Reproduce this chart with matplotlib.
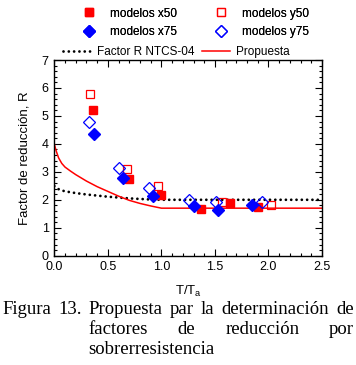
import matplotlib
matplotlib.use("Agg")
import matplotlib.pyplot as plt
from matplotlib.lines import Line2D
from matplotlib.ticker import MultipleLocator

# ---- data ----
x50_T = [0.36, 0.70, 1.00, 1.37, 1.64, 1.90]
x50_R = [5.22, 2.74, 2.16, 1.68, 1.87, 1.74]
y50_T = [0.33, 0.68, 0.97, 1.57, 2.02]
y50_R = [5.80, 3.11, 2.50, 1.92, 1.83]
x75_T = [0.37, 0.64, 0.92, 1.30, 1.53, 1.85]
x75_R = [4.37, 2.79, 2.15, 1.79, 1.65, 1.83]
y75_T = [0.32, 0.60, 0.88, 1.26, 1.51, 1.94]
y75_R = [4.79, 3.14, 2.42, 1.98, 1.91, 1.91]

ntcs_T = [0.0, 0.03, 0.06, 0.12, 0.2, 0.3, 0.4, 0.5, 0.6, 0.7, 0.8, 0.9, 1.0, 2.5]
ntcs_R = [2.49, 2.40, 2.34, 2.29, 2.24, 2.19, 2.15, 2.11, 2.08, 2.05, 2.03, 2.01, 2.0, 2.0]

prop_T = [0.0, 0.01, 0.02, 0.04, 0.07, 0.1, 0.15, 0.2, 0.3, 0.4, 0.5, 0.6, 0.7, 0.8, 0.9, 1.0, 2.5]
prop_R = [4.0, 3.85, 3.72, 3.50, 3.30, 3.17, 3.03, 2.90, 2.67, 2.47, 2.30, 2.13, 1.98, 1.87, 1.78, 1.70, 1.70]

labels = ["modelos x50", "modelos y50", "modelos x75", "modelos y75",
          "Factor R NTCS-04", "Propuesta"]
xlabel = "T/T$_\\mathregular{a}$"
ylabel = "Factor de reducción, R"
caption1 = ["Figura", "13.", "Propuesta", "par", "la", "determinación", "de"]
caption2 = ["factores", "de", "reducción", "por"]
caption3 = ["sobrerresistencia"]

RED = "#ff0000"
BLUE = "#0000ff"

W, H = 356, 365
plt.rcParams['font.family'] = ['Liberation Sans', 'DejaVu Sans']
fig = plt.figure(figsize=(W / 100, H / 100), dpi=100)
ax = fig.add_axes([54.3 / W, 1 - 255.7 / H, (322 - 54.3) / W, (255.7 - 60) / H])

ax.plot(ntcs_T, ntcs_R, color="black", lw=2.0, linestyle=(0, (0.01, 1.9)),
        dash_capstyle="round", zorder=2)
ax.plot(prop_T, prop_R, color=RED, lw=1.1, zorder=2)

h1, = ax.plot(x50_T, x50_R, "s", ms=5.5, color=RED, mec=RED, zorder=3)
h2, = ax.plot(y50_T, y50_R, "s", ms=6, mfc="none", mec=RED, mew=0.9, zorder=3)
h3, = ax.plot(x75_T, x75_R, "D", ms=6, color=BLUE, mec=BLUE, zorder=3)
h4, = ax.plot(y75_T, y75_R, "D", ms=6, mfc="none", mec=BLUE, mew=0.9, zorder=3)

ax.set_xlim(0, 2.5)
ax.set_ylim(0, 7)
ax.xaxis.set_major_locator(MultipleLocator(0.5))
ax.xaxis.set_minor_locator(MultipleLocator(0.1))
ax.yaxis.set_major_locator(MultipleLocator(1))
ax.yaxis.set_minor_locator(MultipleLocator(0.2))
ax.xaxis.set_major_formatter(matplotlib.ticker.FormatStrFormatter("%.1f"))
ax.tick_params(which="both", direction="in", top=True, right=True, labelsize=9, pad=4)
ax.tick_params(which="major", length=5, width=0.8)
ax.tick_params(which="minor", length=2.5, width=0.8)
for s in ax.spines.values():
    s.set_linewidth(1.0)

ax.set_xlabel(xlabel, fontsize=9.5, labelpad=8)
ax.set_ylabel(ylabel, fontsize=9.5, labelpad=8)

# legends
fs = 8.5
leg1 = fig.legend([h1, h3, h2, h4], [labels[0], labels[2], labels[1], labels[3]],
                  ncol=2, loc="center left",
                  bbox_to_anchor=(80 / W, 1 - 23 / H), frameon=False, fontsize=fs,
                  borderpad=0, borderaxespad=0, handlelength=1.5, handletextpad=1.04,
                  columnspacing=2.95, labelspacing=0.58)
l1 = Line2D([], [], color="black", lw=2.0, linestyle=(0, (0.01, 1.9)), dash_capstyle="round")
l2 = Line2D([], [], color=RED, lw=1.1)
leg2 = fig.legend([l1, l2], labels[4:], ncol=2, loc="center left",
                  bbox_to_anchor=(63 / W, 1 - 52 / H), frameon=False, fontsize=fs,
                  borderpad=0, borderaxespad=0, handlelength=2.3, handletextpad=0.55,
                  columnspacing=0.7)
fig.add_artist(leg1)

# caption: justified lines (word gaps distributed evenly)
cf = dict(family=["Liberation Serif", "DejaVu Serif"], fontsize=13.5, va="center", ha="left")
renderer = fig.canvas.get_renderer()


def place_line(words, x0, x1, y, justify=True):
    texts = [fig.text(0, 1 - y / H, w, **cf) for w in words]
    widths = [t.get_window_extent(renderer).width for t in texts]
    if justify and len(words) > 1:
        gap = (x1 - x0 - sum(widths)) / (len(words) - 1)
    else:
        gap = 0
    x = x0
    starts = []
    for t, w in zip(texts, widths):
        t.set_x(x / W)
        starts.append(x)
        x += w + gap
    return starts


s1 = place_line(caption1, 2, 354, 310)
indent = s1[2]
place_line(caption2, indent, 354, 330)
place_line(caption3, indent, 354, 350, justify=False)

fig.savefig("out.png", dpi=100)
